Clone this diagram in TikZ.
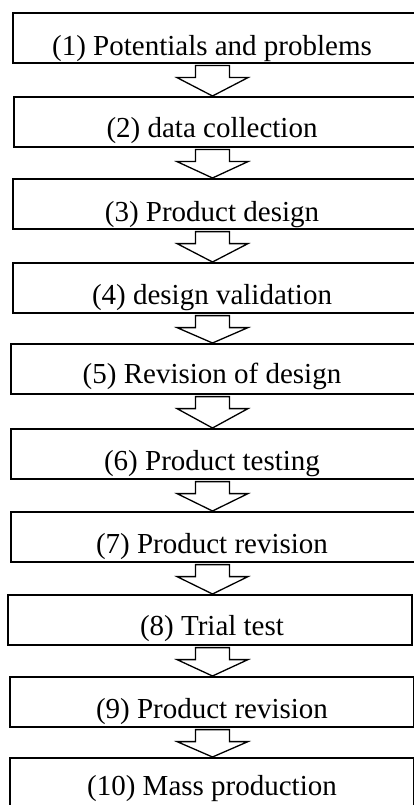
\documentclass[tikz,border=0pt]{standalone}
\usepackage{fontspec}
\setmainfont{Liberation Serif}
\usetikzlibrary{calc}

\begin{document}
\begin{tikzpicture}[x=1pt, y=-1pt,
  box/.style={draw, line width=1.6pt, anchor=north west, inner sep=0pt,
              minimum width=404pt, minimum height=50pt},
  lab/.style={anchor=base, inner sep=0pt, font=\fontsize{29}{31}\selectfont},
  blk/.style={draw, line width=1.3pt, fill=white, line join=miter}
]
\useasboundingbox (0,0) rectangle (413,805);
\coordinate (mid) at (212.5,0);
% stages: number / left / top / baseline below top / text
\foreach \i/\lx/\ty/\bs/\txt in {
    1/12/12/44/{(1) Potentials and problems},
    2/13/96/42/{(2) data collection},
    3/12/178/43/{(3) Product design},
    4/12/262/42/{(4) design validation},
    5/10/343/40/{(5) Revision of design},
    6/10/428/42/{(6) Product testing},
    7/10/511/42/{(7) Product revision},
    8/7/594/41/{(8) Trial test},
    9/9/676/42/{(9) Product revision},
    10/9/757/38/{(10) Mass production}}{
  \node[box] (s\i) at (\lx,\ty) {};
  \begin{scope}
    \clip (s\i.north west) rectangle (s\i.south east);
    \node[lab] (t\i) at (212,\ty+\bs) {\txt};
  \end{scope}
}
% block arrows between stages
\foreach \i [evaluate=\i as \j using int(\i+1)] in {1,...,9}{
  \coordinate (a) at (s\i.south -| mid);
  \coordinate (b) at (s\j.north -| mid);
  \draw[blk] (b) -- ($(a)+(-35.5,14)$) -- ($(a)+(-17,14)$) -- ($(a)+(-17,2)$)
    -- ($(a)+(17,2)$) -- ($(a)+(17,14)$) -- ($(a)+(35.5,14)$) -- cycle;
}
\end{tikzpicture}
\end{document}
